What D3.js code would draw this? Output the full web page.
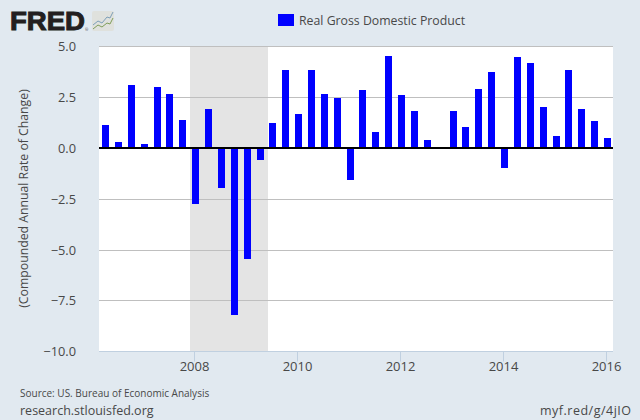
<!DOCTYPE html>
<html>
<head>
<meta charset="utf-8">
<script src="https://cdnjs.cloudflare.com/ajax/libs/d3/7.8.5/d3.min.js"></script>
<style>
  html, body { margin: 0; padding: 0; background: #e1e9f0; }
  svg { display: block; }
  text { font-family: "Open Sans", sans-serif; fill: #484848; }
</style>
</head>
<body>
<div id="chart"></div>
<script>
// one value per quarter, 2006 Q2 to 2016 Q1
var quarters = [
  "2006-04-01","2006-07-01","2006-10-01",
  "2007-01-01","2007-04-01","2007-07-01","2007-10-01",
  "2008-01-01","2008-04-01","2008-07-01","2008-10-01",
  "2009-01-01","2009-04-01","2009-07-01","2009-10-01",
  "2010-01-01","2010-04-01","2010-07-01","2010-10-01",
  "2011-01-01","2011-04-01","2011-07-01","2011-10-01",
  "2012-01-01","2012-04-01","2012-07-01","2012-10-01",
  "2013-01-01","2013-04-01","2013-07-01","2013-10-01",
  "2014-01-01","2014-04-01","2014-07-01","2014-10-01",
  "2015-01-01","2015-04-01","2015-07-01","2015-10-01",
  "2016-01-01"
];
var gdpValues = [
  1.13, 0.30, 3.10,
  0.20, 3.00, 2.66, 1.38,
  -2.76, 1.92, -1.97, -8.23,
  -5.47, -0.59, 1.23, 3.84,
  1.67, 3.84, 2.66, 2.46,
  -1.58, 2.86, 0.79, 4.53,
  2.61, 1.82, 0.39, 0.05,
  1.82, 1.03, 2.91, 3.74,
  -0.99, 4.48, 4.19, 2.02,
  0.59, 3.84, 1.92, 1.33,
  0.49
];
var recession = ["2007-12-01", "2009-06-01"];
var yearTicks = ["2008-01-01","2010-01-01","2012-01-01","2014-01-01","2016-01-01"];
var yTicks = [5, 2.5, 0, -2.5, -5, -7.5, -10];

var width = 640, height = 420;
var left = 99, right = 613, plotTop = 46, plotBottom = 351;
var barWidth = 7;

var parse = d3.utcParse("%Y-%m-%d");

var svg = d3.select("#chart")
            .append("svg")
            .attr("width", width)
            .attr("height", height);

svg.append("rect")
   .attr("width", width)
   .attr("height", height)
   .attr("fill", "#e1e9f0");

// 2008 sits near 194 and 2016 near 606 in the picture
var x = d3.scaleUtc()
          .domain([parse("2008-01-01"), parse("2016-01-01")])
          .range([194.4, 606.2]);

var y = d3.scaleLinear()
          .domain([-10, 5])
          .range([351.4, 47.2]);

// lines and bars land on whole pixel rows
function row(v) { return Math.floor(y(v)); }

svg.append("rect")
   .attr("x", left)
   .attr("y", plotTop)
   .attr("width", right - left)
   .attr("height", plotBottom - plotTop)
   .attr("fill", "#fff");

// recession band
var bandStart = Math.round(x(parse(recession[0])));
var bandEnd = Math.ceil(x(parse(recession[1])));
svg.append("rect")
   .attr("x", bandStart)
   .attr("y", plotTop)
   .attr("width", bandEnd - bandStart)
   .attr("height", plotBottom - plotTop)
   .attr("fill", "#e4e4e4");

// y axis + gridlines
var yAxis = svg.append("g")
   .attr("transform", "translate(" + left + ",0)")
   .call(d3.axisLeft(y)
           .tickValues(yTicks)
           .tickSize(-(right - left))
           .tickPadding(23)
           .offset(0)
           .tickFormat(d3.format(".1f")));
yAxis.select(".domain").remove();
yAxis.selectAll(".tick")
     .attr("transform", function(d) {
       // top line is the plot border, one row above the scale
       var r = d === 5 ? plotTop : row(d);
       return "translate(0," + (r + 0.5) + ")";
     });
yAxis.selectAll("line")
     .attr("stroke", "#bfbfbf")
     .attr("stroke-width", 1);
yAxis.selectAll(".tick")
     .filter(function(d) { return d === -10; })
     .select("line")
     .attr("stroke", "#c0d0e0");
yAxis.selectAll("text")
     .attr("dy", 4.5)
     .attr("font-size", 12.8)
     .style("font-family", '"Open Sans", sans-serif')
     .attr("fill", "#484848");

// bars
svg.append("g")
   .selectAll("rect")
   .data(gdpValues)
   .join("rect")
   .attr("x", function(d, i) { return Math.round(x(parse(quarters[i])) - 2.1); })
   .attr("y", function(d) { return row(Math.max(d, 0)); })
   .attr("width", barWidth)
   .attr("height", function(d) { return Math.abs(row(d) - row(0)); })
   .attr("fill", "#0000ff");

// zero line
svg.append("line")
   .attr("x1", left)
   .attr("x2", right)
   .attr("y1", row(0))
   .attr("y2", row(0))
   .attr("stroke", "#000")
   .attr("stroke-width", 2);

// x axis
var xAxis = svg.append("g")
   .attr("transform", "translate(0," + (plotBottom + 0.5) + ")")
   .call(d3.axisBottom(x)
           .tickValues(yearTicks.map(parse))
           .tickSize(10)
           .tickPadding(0)
           .offset(0)
           .tickFormat(d3.utcFormat("%Y")));
xAxis.select(".domain").remove();
xAxis.selectAll(".tick")
     .attr("transform", function(d) {
       return "translate(" + (Math.floor(x(d)) + 0.5) + ",0)";
     });
xAxis.selectAll("line").attr("stroke", "#c0d0e0");
xAxis.selectAll("text")
     .attr("font-size", 13)
     .style("font-family", '"Open Sans", sans-serif')
     .attr("fill", "#484848");

// y title
svg.append("text")
   .attr("transform", "translate(28,198.5) rotate(-90)")
   .attr("text-anchor", "middle")
   .attr("font-size", 12.25)
   .text("(Compounded Annual Rate of Change)");

// legend
svg.append("rect")
   .attr("x", 278)
   .attr("y", 14)
   .attr("width", 16)
   .attr("height", 12)
   .attr("fill", "#0000ff");
svg.append("text")
   .attr("x", 299)
   .attr("y", 25)
   .attr("font-size", 12.3)
   .text("Real Gross Domestic Product");

// footer
svg.append("text")
   .attr("x", 20)
   .attr("y", 397)
   .attr("font-size", 10)
   .text("Source: US. Bureau of Economic Analysis");
svg.append("text")
   .attr("x", 20)
   .attr("y", 415)
   .attr("font-size", 12.5)
   .text("research.stlouisfed.org");
svg.append("text")
   .attr("x", 540)
   .attr("y", 415)
   .attr("font-size", 12.5)
   .attr("textLength", 91)
   .text("myf.red/g/4jIO");

// logo
svg.append("text")
   .attr("x", 10)
   .attr("y", 30)
   .attr("font-size", 26.5)
   .attr("textLength", 75)
   .attr("lengthAdjust", "spacingAndGlyphs")
   .style("font-family", '"Liberation Sans", sans-serif')
   .style("font-weight", "bold")
   .style("fill", "#231f20")
   .style("stroke", "#231f20")
   .style("stroke-width", 1)
   .text("FRED");
svg.append("text")
   .attr("x", 85)
   .attr("y", 31)
   .attr("font-size", 4)
   .text("®");
svg.append("rect")
   .attr("x", 92)
   .attr("y", 11)
   .attr("width", 22)
   .attr("height", 20)
   .attr("rx", 2)
   .attr("fill", "#dfe1dd");
svg.append("path")
   .attr("d", "M93,25 L98,21 L102,23 L107,17 L110,18 L113,12")
   .attr("fill", "none")
   .attr("stroke", "#7d9fb8")
   .attr("stroke-width", 1);
svg.append("path")
   .attr("d", "M93,29 L98,25 L102,27 L107,23 L110,24 L113,18")
   .attr("fill", "none")
   .attr("stroke", "#7f9d5a")
   .attr("stroke-width", 1);
</script>
</body>
</html>
